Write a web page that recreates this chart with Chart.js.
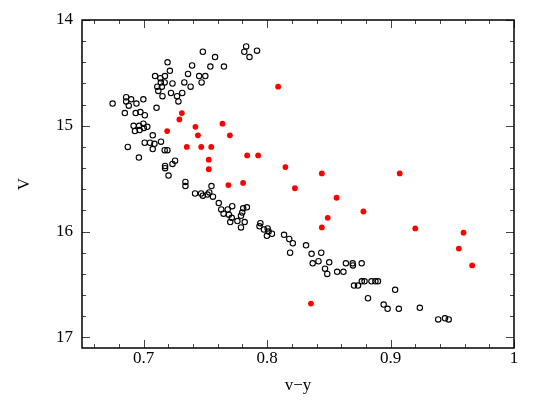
<!DOCTYPE html>
<html>
<head>
<meta charset="utf-8">
<script src="https://cdn.jsdelivr.net/npm/chart.js@4.4.0/dist/chart.umd.min.js"></script>
<style>
  html, body { margin: 0; padding: 0; background: #fff; }
  canvas { display: block; }
</style>
</head>
<body>
<canvas id="cmd" width="541" height="409"></canvas>
<script>
// open circles: v-y colour, V magnitude
const blackX = [
  0.6748, 0.6847, 0.6858, 0.6858, 0.6879, 0.6898, 0.6941, 0.6935, 0.6973, 0.6997,
  0.7009, 0.6918, 0.6929, 0.6967, 0.6963, 0.6997, 0.7001, 0.7029, 0.6871, 0.6961,
  0.7008, 0.7051, 0.7073, 0.7073, 0.7087, 0.7140, 0.7170, 0.7192, 0.7173, 0.7173,
  0.7201, 0.7233, 0.7254, 0.7104, 0.7092, 0.7110, 0.7118, 0.7135, 0.7139, 0.7147,
  0.7152, 0.7170, 0.7172, 0.7193, 0.7212, 0.7221, 0.7233, 0.7270, 0.7281, 0.7312,
  0.7329, 0.7359, 0.7380, 0.7392, 0.7449, 0.7469, 0.7499, 0.7479, 0.7540, 0.7578,
  0.7650, 0.7815, 0.7830, 0.7857, 0.7918,
  0.7338, 0.7338, 0.7416, 0.7465, 0.7479, 0.7517, 0.7531, 0.7549, 0.7561, 0.7608,
  0.7628, 0.7647, 0.7681, 0.7690, 0.7717, 0.7701, 0.7713, 0.7759, 0.7788, 0.7798,
  0.7806, 0.7836, 0.7818, 0.7788, 0.7945, 0.7938, 0.7974, 0.8004, 0.8012, 0.7998,
  0.8039, 0.8137, 0.8179, 0.8208, 0.8186, 0.8315, 0.8360, 0.8369, 0.8438, 0.8416,
  0.8503, 0.8469, 0.8487, 0.8567, 0.8618, 0.8638, 0.8693, 0.8695, 0.8766, 0.8704,
  0.8736, 0.8767, 0.8789, 0.8845, 0.8877, 0.8898, 0.8817, 0.9037, 0.8944, 0.8976,
  0.9067, 0.9237, 0.9386, 0.9441, 0.9471
];
const blackV = [
  14.79, 14.88, 14.73, 14.77, 14.81, 14.75, 14.79, 14.88, 14.87, 14.75,
  14.90, 15.00, 15.05, 15.04, 15.00, 14.98, 15.02, 15.01, 15.20, 15.30,
  15.16, 15.16, 15.09, 15.22, 15.17, 15.15, 15.23, 15.23, 15.38, 15.40,
  15.47, 15.36, 15.33, 14.83, 14.53, 14.63, 14.67, 14.55, 14.59, 14.63,
  14.72, 14.59, 14.53, 14.40, 14.48, 14.69, 14.60, 14.72, 14.77, 14.69,
  14.59, 14.51, 14.63, 14.43, 14.53, 14.59, 14.53, 14.30, 14.44, 14.35,
  14.44, 14.30, 14.25, 14.35, 14.29,
  15.53, 15.57, 15.64, 15.64, 15.66, 15.65, 15.63, 15.57, 15.67, 15.73,
  15.79, 15.83, 15.79, 15.84, 15.76, 15.91, 15.87, 15.90, 15.85, 15.82,
  15.78, 15.77, 15.91, 15.96, 15.92, 15.95, 15.98, 15.97, 16.00, 16.04,
  16.02, 16.03, 16.07, 16.11, 16.20, 16.13, 16.21, 16.30, 16.20, 16.28,
  16.29, 16.35, 16.40, 16.38, 16.38, 16.30, 16.30, 16.32, 16.30, 16.51,
  16.51, 16.47, 16.47, 16.47, 16.47, 16.47, 16.63, 16.55, 16.69, 16.73,
  16.73, 16.72, 16.83, 16.82, 16.83
];

// filled red points
const redX = [
  0.8089, 0.7309, 0.7289, 0.7190, 0.7419, 0.7439, 0.7638, 0.7698, 0.7349, 0.7466,
  0.7547, 0.7527, 0.7527, 0.7838, 0.7927, 0.8148, 0.7686, 0.7805, 0.8225, 0.8443,
  0.9074, 0.8562, 0.8491, 0.8443, 0.8780, 0.9200, 0.9591, 0.9553, 0.9661, 0.8355
];
const redV = [
  14.63, 14.88, 14.94, 15.05, 15.01, 15.09, 14.98, 15.09, 15.20, 15.20,
  15.20, 15.32, 15.41, 15.28, 15.28, 15.39, 15.56, 15.54, 15.59, 15.45,
  15.45, 15.68, 15.87, 15.96, 15.81, 15.97, 16.01, 16.16, 16.32, 16.68
];

const xTicks = [0.7, 0.8, 0.9, 1.0];
const yTicks = [14, 15, 16, 17];
const xMinorStep = 0.02, yMinorStep = 0.2;

const toPoints = (xs, ys) => xs.map((x, i) => ({ x: x, y: ys[i] }));

// frame + inward ticks on all four sides
const framePlugin = {
  id: 'frame',
  afterDatasetsDraw(chart) {
    const { ctx, chartArea: a, scales: { x, y } } = chart;
    ctx.save();
    ctx.strokeStyle = '#444';
    ctx.lineWidth = 1;
    ctx.beginPath();
    const xMin = x.min, xMax = x.max, yMin = y.min, yMax = y.max;
    for (let v = Math.ceil(xMin / xMinorStep) * xMinorStep; v <= xMax + 1e-9; v += xMinorStep) {
      const major = xTicks.some(t => Math.abs(t - v) < 1e-6);
      const len = major ? 8 : 4;
      const px = Math.round(x.getPixelForValue(v)) + 0.5;
      ctx.moveTo(px, a.top); ctx.lineTo(px, a.top + len);
      ctx.moveTo(px, a.bottom); ctx.lineTo(px, a.bottom - len);
    }
    for (let v = Math.ceil(yMin / yMinorStep) * yMinorStep; v <= yMax + 1e-9; v += yMinorStep) {
      const major = yTicks.some(t => Math.abs(t - v) < 1e-6);
      const len = major ? 8 : 4;
      const py = Math.round(y.getPixelForValue(v)) + 0.5;
      ctx.moveTo(a.left, py); ctx.lineTo(a.left + len, py);
      ctx.moveTo(a.right, py); ctx.lineTo(a.right - len, py);
    }
    ctx.stroke();
    ctx.strokeStyle = '#000';
    ctx.lineWidth = 1.5;
    ctx.strokeRect(a.left, a.top, a.right - a.left, a.bottom - a.top);
    ctx.restore();
  }
};

const serif = { family: '"Liberation Serif", "Times New Roman", serif', size: 17 };

new Chart(document.getElementById('cmd'), {
  type: 'scatter',
  data: {
    datasets: [
      {
        label: 'stars',
        data: toPoints(blackX, blackV),
        pointStyle: 'circle',
        pointRadius: 2.7,
        pointBorderWidth: 1.1,
        borderColor: '#000',
        backgroundColor: 'rgba(0,0,0,0)'
      },
      {
        label: 'red',
        data: toPoints(redX, redV),
        pointStyle: 'circle',
        pointRadius: 2.9,
        pointBorderWidth: 0,
        borderColor: '#ff0000',
        backgroundColor: '#ff0000'
      }
    ]
  },
  options: {
    responsive: false,
    animation: false,
    layout: { padding: { left: 0, right: 27, top: 20, bottom: 0 } },
    plugins: { legend: { display: false }, tooltip: { enabled: false } },
    scales: {
      x: {
        type: 'linear',
        min: 0.65,
        max: 1.0,
        afterBuildTicks: s => { s.ticks = xTicks.map(v => ({ value: v })); },
        afterFit: s => { s.height = 61; },
        grid: { display: false, drawTicks: false },
        border: { display: false },
        ticks: {
          color: '#000',
          font: serif,
          padding: 0,
          maxRotation: 0,
          callback: v => String(Math.round(v * 10) / 10)
        },
        title: {
          display: true,
          text: 'v\u2212y',
          color: '#000',
          font: serif,
          padding: { top: 0, bottom: 13 }
        }
      },
      y: {
        type: 'linear',
        reverse: true,
        min: 14,
        max: 17.1,
        afterBuildTicks: s => { s.ticks = yTicks.map(v => ({ value: v })); },
        afterFit: s => { s.width = 82; },
        grid: { display: false, drawTicks: false },
        border: { display: false },
        ticks: {
          color: '#000',
          font: serif,
          padding: 9,
          callback: v => String(v)
        },
        title: {
          display: true,
          text: 'V',
          color: '#000',
          font: serif,
          padding: { top: 14, bottom: 0 }
        }
      }
    }
  },
  plugins: [framePlugin]
});
</script>
</body>
</html>
